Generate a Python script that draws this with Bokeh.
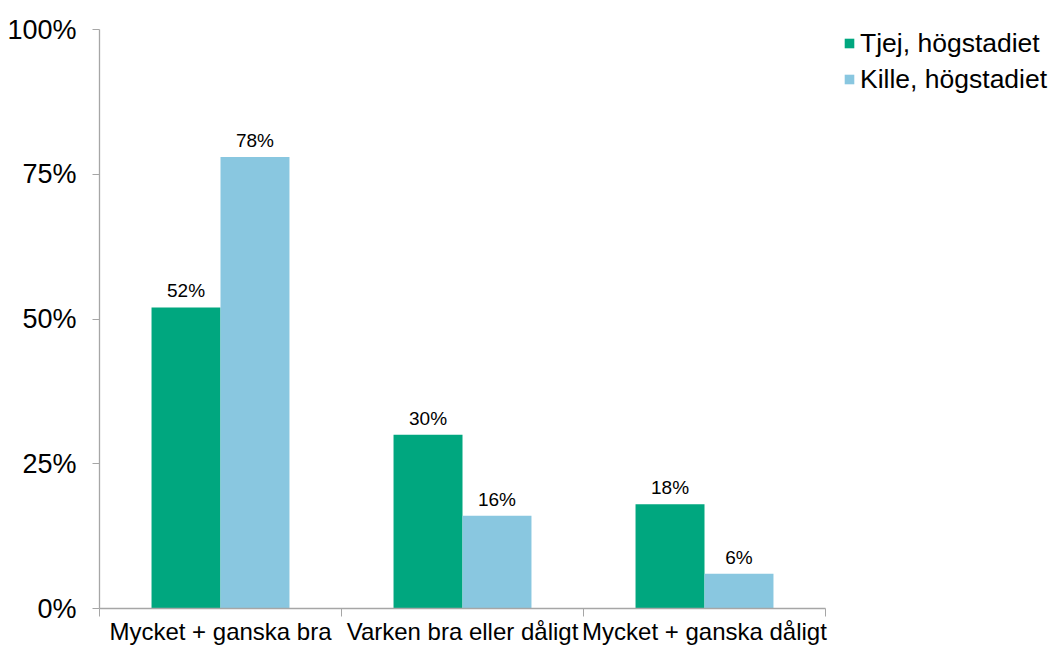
from bokeh.plotting import figure
from bokeh.models import (ColumnDataSource, Range1d, FixedTicker, PrintfTickFormatter,
                          Legend, LegendItem, LabelSet)
from bokeh.core.properties import value
from bokeh.embed import file_html
from bokeh.resources import INLINE

categories = ["Mycket + ganska bra", "Varken bra eller dåligt", "Mycket + ganska dåligt"]
series_names = ["Tjej, högstadiet", "Kille, högstadiet"]
tjej = [52, 30, 18]
kille = [78, 16, 6]
y_ticks = [0, 25, 50, 75, 100]
colors = ["#00a77f", "#89c7e0"]

FONT = "Liberation Sans"
W, H = 1048, 648
FL, FT = 99, 4          # frame left / top (frame spans to right edge)
AX_R = 825              # pixel where x axis ends
Y100 = 29               # pixel of 100%
FB = 608                # frame bottom (0%)

n = len(categories)
px_per_cat = (AX_R - FL) / n
x_end = (W - FL) / px_per_cat
y_end = 100 + 100 * (Y100 - FT) / (FB - Y100)

p = figure(width=W, height=H, output_backend="svg", toolbar_location=None,
           x_range=Range1d(0, x_end), y_range=Range1d(0, y_end),
           min_border_left=FL, min_border_right=0, min_border_top=FT,
           min_border_bottom=H - FB)
p.outline_line_color = None
p.xgrid.grid_line_color = None
p.ygrid.grid_line_color = None
p.background_fill_color = "white"
p.border_fill_color = "white"

bw = 0.285
renderers = []
for k, (vals, col) in enumerate(zip([tjej, kille], colors)):
    off = (k - 0.5) * bw
    xs = [i + 0.5 + off for i in range(n)]
    src = ColumnDataSource(dict(x=xs, top=vals, lab=[f"{v}%" for v in vals]))
    r = p.vbar(x="x", top="top", width=bw, bottom=0, source=src,
               fill_color=col, line_color=None)
    renderers.append(r)
    p.add_layout(LabelSet(x="x", y="top", text="lab", source=src, text_align="center",
                          text_baseline="bottom", y_offset=6, text_font=value(FONT),
                          text_font_size=value("19px"), text_color="#000000"))

# axes
axis_col = "#a6a6a6"
p.xaxis.bounds = (0, n)
p.xaxis.ticker = FixedTicker(ticks=[i + 0.5 for i in range(n)],
                             minor_ticks=list(range(n + 1)))
p.xaxis.major_label_overrides = {i + 0.5: c for i, c in enumerate(categories)}
p.xaxis.major_tick_line_color = None
p.xaxis.major_tick_out = 0
p.xaxis.major_tick_in = 0
p.xaxis.minor_tick_line_color = axis_col
p.xaxis.minor_tick_out = 8
p.xaxis.minor_tick_in = 0
p.xaxis.axis_line_color = axis_col
p.xaxis.axis_line_width = 1.3
p.xaxis.major_label_text_font = FONT
p.xaxis.major_label_text_font_size = "24px"
p.xaxis.major_label_text_color = "#000000"
p.xaxis.major_label_standoff = 1

p.yaxis.bounds = (0, 100)
p.yaxis.ticker = FixedTicker(ticks=y_ticks)
p.yaxis.formatter = PrintfTickFormatter(format="%d%%")
p.yaxis.minor_tick_line_color = None
p.yaxis.major_tick_line_color = axis_col
p.yaxis.major_tick_out = 7
p.yaxis.major_tick_in = 0
p.yaxis.axis_line_color = axis_col
p.yaxis.axis_line_width = 1.3
p.yaxis.major_label_text_font = FONT
p.yaxis.major_label_text_font_size = "27px"
p.yaxis.major_label_text_color = "#000000"
p.yaxis.major_label_standoff = 16

item_h = 36
legend_top = 25
legend = Legend(items=[LegendItem(label=s, renderers=[r]) for s, r in zip(series_names, renderers)],
                location=(843 - FL, FB - legend_top - 2 * item_h), orientation="vertical",
                glyph_width=12, glyph_height=12, label_standoff=5, spacing=0,
                label_height=item_h, padding=0, margin=0, border_line_color=None,
                background_fill_alpha=0,
                label_text_font=FONT, label_text_font_size="26.5px", label_text_color="#000000")
p.add_layout(legend, "center")

open("out.html", "w").write(file_html(p, INLINE))
